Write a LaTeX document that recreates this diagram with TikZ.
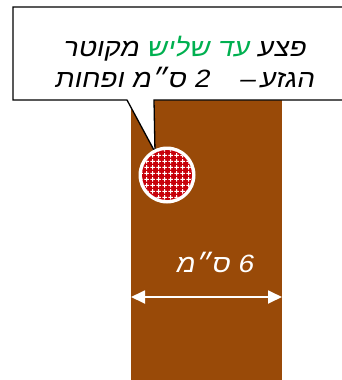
\documentclass[tikz,border=0pt]{standalone}
\usepackage{fontspec}
\TeXXeTstate=1
\newfontfamily\heb[Script=Hebrew,FakeSlant=0.2,FakeStretch=1.12]{Liberation Sans}
\usetikzlibrary{arrows.meta,patterns}
\definecolor{trunk}{RGB}{153,74,8}
\definecolor{woundred}{RGB}{200,0,10}
\definecolor{hgreen}{RGB}{0,176,80}
\pgfdeclarepatternformonly{crossgrid}{\pgfqpoint{0pt}{0pt}}{\pgfqpoint{6pt}{6pt}}{\pgfqpoint{6pt}{6pt}}{%
  \pgfpathrectangle{\pgfqpoint{2.3pt}{0.4pt}}{\pgfqpoint{1.4pt}{5.2pt}}%
  \pgfpathrectangle{\pgfqpoint{0.4pt}{2.3pt}}{\pgfqpoint{5.2pt}{1.4pt}}%
  \pgfusepath{fill}}
\begin{document}
\begin{tikzpicture}[x=1pt,y=-1pt,
  calloutline/.style={draw=black,line width=1.3pt,fill=white,line join=miter},
  hebtext/.style={font=\heb\fontsize{25}{31}\selectfont,align=center,inner sep=0pt},
  measure/.style={draw=white,line width=1.8pt,{Triangle[length=14pt,width=13pt]}-{Triangle[length=14pt,width=13pt]}}]
\useasboundingbox (0,0) rectangle (342,380);
\clip (0,0) rectangle (342,380);
% trunk
\fill[trunk] (131,100) rectangle (282,381);
% callout
\coordinate (tip) at (155,152);
\draw[calloutline] (13,7) -- (350,7) -- (350,100) -- (154,100) -- (tip) -- (127,100) -- (13,100) -- cycle;
\node[hebtext] (label) at (184,62) {\beginR מקוטר\endR\ \textcolor{hgreen}{\beginR עד שליש\endR}\ \beginR פצע\endR\\
  \beginR 2 ס״מ ופחות\endR\hspace{1.2em}–\,\beginR הגזע\endR};
% wound
\node[circle,fill=white,minimum size=57pt,inner sep=0pt] (ring) at (167,175) {};
\fill[woundred] (ring.center) circle (25);
\fill[pattern=crossgrid,pattern color=white] (ring.center) circle (25);
% measure
\coordinate (ml) at (131,297);
\coordinate (mr) at (282,297);
\draw[measure] (ml) -- (mr);
\node[font=\heb\fontsize{25}{30}\selectfont,text=white,inner sep=0pt] (w) at (214,262) {\beginR 6 ס״מ\endR};
\end{tikzpicture}
\end{document}
